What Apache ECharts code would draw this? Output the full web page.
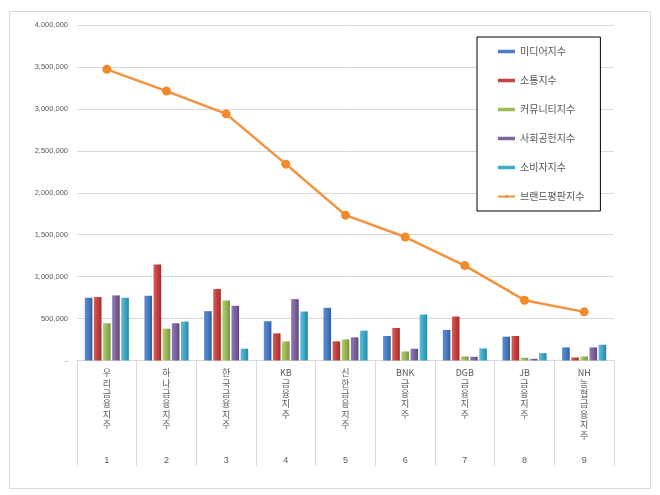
<!DOCTYPE html>
<html>
<head>
<meta charset="utf-8">
<script src="https://cdn.jsdelivr.net/npm/echarts@6/dist/echarts.min.js"></script>
<style>
html,body{margin:0;padding:0;background:#fff;}
#chart{width:660px;height:495px;}
</style>
</head>
<body>
<div id="chart"></div>
<script>
const categories = ['우리금융지주','하나금융지주','한국금융지주','KB금융지주','신한금융지주','BNK금융지주','DGB금융지주','JB금융지주','NH 농협금융지주'];
const ranks = ['1','2','3','4','5','6','7','8','9'];
const media     = [748000, 772000, 588000, 468000, 628000, 292000, 364000, 284000, 156000];
const comm      = [756000,1144000, 852000, 324000, 228000, 388000, 524000, 292000,  36000];
const community = [444000, 380000, 716000, 228000, 252000, 108000,  48000,  32000,  48000];
const social    = [776000, 444000, 652000, 732000, 276000, 140000,  44000,  20000, 156000];
const consumer  = [748000, 464000, 140000, 584000, 356000, 548000, 144000,  88000, 188000];
const brand     = [3471000,3212000,2940000,2341000,1733000,1472000,1132000, 719000, 580000];
const seriesNames = ['미디어지수','소통지수','커뮤니티지수','사회공헌지수','소비자지수','브랜드평판지수'];
const yTicks = {min:0, max:4000000, interval:500000};

function grad(c1, c2, c3){
  return new echarts.graphic.LinearGradient(0,0,1,0,[
    {offset:0,color:c1},{offset:0.45,color:c2},{offset:1,color:c3}]);
}
const barColors = [
  grad('#5A8AD0','#4A7EC6','#2F5E9E'),
  grad('#D4615E','#C7423F','#9E2E2B'),
  grad('#AFCF6A','#9BBB59','#76953B'),
  grad('#9479B8','#8064A2','#5E4880'),
  grad('#5EC0DA','#3FA9C8','#2A86A2')
];
const legendColors = ['#4A7EC6','#C7423F','#9BBB59','#8064A2','#3FA9C8'];

function vertLabel(s){
  const parts = [];
  let buf = '';
  for (const ch of s){
    if (/[A-Za-z0-9]/.test(ch)) { buf += ch; }
    else {
      if (buf) { parts.push(buf); buf=''; }
      if (ch !== ' ') parts.push(ch);
    }
  }
  if (buf) parts.push(buf);
  return parts.join('\n');
}

const barData = [media, comm, community, social, consumer];
const series = barData.map((d,i)=>({
  name: seriesNames[i],
  type: 'bar',
  data: d,
  barWidth: 7.6,
  barGap: '20%',
  itemStyle: { color: barColors[i] },
  emphasis: { disabled: true }
}));
series.push({
  name: seriesNames[5],
  type: 'line',
  data: brand,
  symbol: 'circle',
  symbolSize: 9,
  lineStyle: { color: '#F5913E', width: 2.5 },
  itemStyle: { color: '#F08A2C' },
  z: 10,
  emphasis: { disabled: true }
});

const chart = echarts.init(document.getElementById('chart'));
chart.setOption({
  animation: false,
  backgroundColor: '#fff',
  textStyle: { fontFamily: '"Noto Sans CJK KR", "Liberation Sans", sans-serif' },
  graphic: [{
    type: 'rect', left: 7, top: 9, silent: true,
    shape: { width: 641, height: 477 },
    style: { fill: 'none', stroke: '#d9d9d9', lineWidth: 1 }
  }],
  grid: { left: 77, right: 46, top: 25, bottom: 134.5, containLabel: false },
  legend: {
    orient: 'vertical',
    left: 477, top: 37,
    data: seriesNames.map((n,i)=> i<5 ? { name: n, icon: 'rect', itemStyle: { color: legendColors[i] } } : { name: n }),
    itemWidth: 17, itemHeight: 3.5, itemGap: 0,
    padding: [0, 16, 0, 20],
    borderColor: '#000', borderWidth: 1, backgroundColor: '#fff',
    textStyle: { fontSize: 10, color: '#595959', lineHeight: 29, fontFamily: '"Noto Sans CJK KR", sans-serif' },
    selectedMode: false
  },
  xAxis: [{
    type: 'category',
    data: categories,
    position: 'bottom',
    axisLine: { show: true, lineStyle: { color: '#d9d9d9' } },
    axisTick: { show: true, interval: 0, length: 105.5, lineStyle: { color: '#d9d9d9' } },
    axisLabel: {
      interval: 0, margin: 7,
      formatter: v => vertLabel(v),
      fontSize: 9, lineHeight: 10.4, color: '#595959',
      fontFamily: '"Noto Sans CJK KR", sans-serif', verticalAlign: 'top'
    }
  },{
    type: 'category',
    data: ranks,
    position: 'bottom',
    offset: 96,
    axisLine: { show: false },
    axisTick: { show: false },
    axisLabel: { interval: 0, margin: 0, fontSize: 9, color: '#595959', fontFamily: '"Liberation Sans", sans-serif' }
  }],
  yAxis: {
    type: 'value',
    min: yTicks.min, max: yTicks.max, interval: yTicks.interval,
    axisLine: { show: false },
    axisTick: { show: false },
    splitLine: { lineStyle: { color: '#d9d9d9' } },
    axisLabel: {
      margin: 9, fontSize: 7.5, color: '#595959',
      fontFamily: '"Liberation Sans", sans-serif',
      formatter: v => v === 0 ? '-' : v.toLocaleString('en-US')
    }
  },
  series: series
});
</script>
</body>
</html>
